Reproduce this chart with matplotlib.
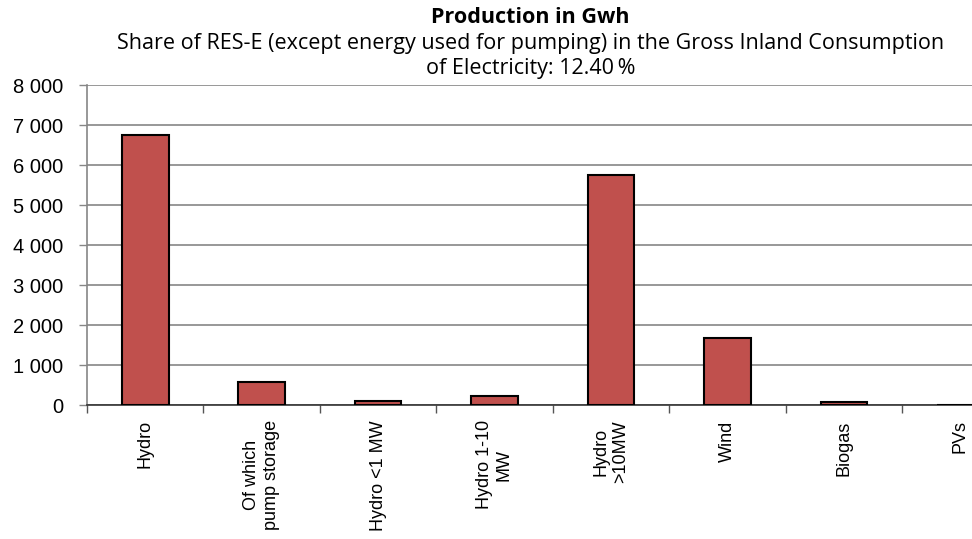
import numpy as np
import matplotlib.pyplot as plt
from matplotlib.ticker import FuncFormatter

categories = ["Hydro", "Of which\npump storage", "Hydro <1 MW", "Hydro 1-10\nMW",
              "Hydro\n>10MW", "Wind", "Biogas", "PVs"]
production_gwh = [6760, 585, 92, 233, 5757, 1683, 75, 1]

plt.rcParams["font.family"] = "Liberation Sans"

fig = plt.figure(figsize=(9.72, 5.39), dpi=100)
ax = fig.add_axes([0.0895, 0.2486, 0.9105, 0.5937])

x = np.arange(len(categories))
ax.bar(x, production_gwh, width=0.4, color="#C0504D", edgecolor="black",
       linewidth=1.5, zorder=3)

ax.set_ylim(0, 8000)
ax.set_xlim(-0.5, 7.1)
ax.set_yticks(np.arange(0, 8001, 1000))
ax.yaxis.set_major_formatter(FuncFormatter(lambda v, p: f"{int(v):,}".replace(",", " ")))
ax.yaxis.grid(True, color="#868686", linewidth=1.2, zorder=0)

# category labels at centers, tick marks on boundaries
ax.set_xticks(x)
ax.set_xticklabels(categories, rotation=90, va="top", ha="center",
                   fontsize=13, linespacing=1.2)
ax.tick_params(axis="x", which="major", length=0, pad=11)
ax.set_xticks(np.arange(-0.5, 7.0, 1.0), minor=True)
ax.tick_params(axis="x", which="minor", length=6, width=1, color="#555555")
ax.tick_params(axis="y", length=6, width=1, color="#868686", labelsize=14.5, pad=11)

for s in ["top", "right"]:
    ax.spines[s].set_visible(False)
ax.spines["left"].set_color("#868686")
ax.spines["left"].set_linewidth(1.2)
ax.spines["bottom"].set_color("#333333")
ax.spines["bottom"].set_linewidth(1.2)

cx = 0.546
fig.text(cx, 0.968, "Production in Gwh", ha="center", va="center",
         fontsize=15.5, fontweight="bold", family="Open Sans")
fig.text(cx, 0.920, "Share of RES-E (except energy used for pumping) in the Gross Inland Consumption",
         ha="center", va="center", fontsize=15.5, family="Open Sans")
fig.text(cx, 0.872, "of Electricity: 12.40\u2009%", ha="center", va="center",
         fontsize=15.5, family=["Open Sans", "DejaVu Sans"])

fig.savefig("out.png", dpi=100)
